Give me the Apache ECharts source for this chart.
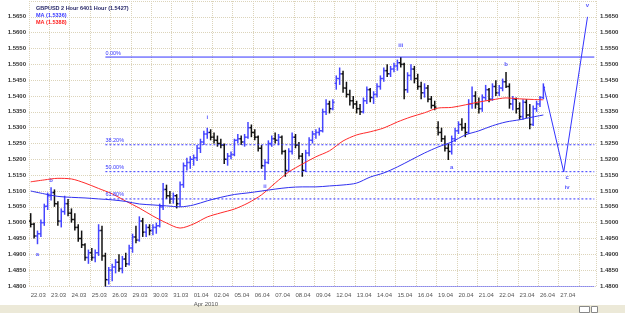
<!DOCTYPE html>
<html>
<head>
<meta charset="utf-8">
<script src="https://cdn.jsdelivr.net/npm/echarts@6/dist/echarts.min.js"></script>
<style>
  html, body { margin: 0; padding: 0; background: #fff; }
  #chart { width: 625px; height: 313px; }
</style>
</head>
<body>
<div id="chart"></div>
<script>
// trading days shown on the axis (2010), 6 bars per day
const days = ['22.03', '23.03', '24.03', '25.03', '26.03', '29.03', '30.03', '31.03', '01.04', '02.04',
  '05.04', '06.04', '07.04', '08.04', '09.04', '12.04', '13.04', '14.04', '15.04', '16.04',
  '19.04', '20.04', '21.04', '22.04', '23.04', '26.04', '27.04', '28.04'];
const slots = ['00', '04', '08', '12', '16', '20'];
const slotCount = 167;

// [open, high, low, close]
const ohlc = [
  [1.5005, 1.5030, 1.4985, 1.4995], [1.4995, 1.5000, 1.4950, 1.4958], [1.4958, 1.4975, 1.4932, 1.4965], [1.4965, 1.5010, 1.4955, 1.5000], [1.5000, 1.5060, 1.4990, 1.5052], [1.5052, 1.5095, 1.5040, 1.5085],
  [1.5085, 1.5112, 1.5070, 1.5095], [1.5095, 1.5105, 1.5050, 1.5060], [1.5060, 1.5068, 1.4990, 1.5005], [1.5005, 1.5045, 1.4985, 1.5035], [1.5035, 1.5085, 1.5025, 1.5060], [1.5060, 1.5075, 1.5020, 1.5030],
  [1.5030, 1.5045, 1.5000, 1.5010], [1.5010, 1.5030, 1.4975, 1.4985], [1.4985, 1.4995, 1.4940, 1.4950], [1.4950, 1.4975, 1.4920, 1.4930], [1.4930, 1.4935, 1.4880, 1.4890], [1.4890, 1.4915, 1.4870, 1.4905],
  [1.4905, 1.4920, 1.4880, 1.4890], [1.4890, 1.4915, 1.4875, 1.4905], [1.4905, 1.4995, 1.4895, 1.4975], [1.4975, 1.4990, 1.4880, 1.4895], [1.4895, 1.4905, 1.4798, 1.4820], [1.4820, 1.4860, 1.4805, 1.4850],
  [1.4850, 1.4870, 1.4815, 1.4860], [1.4860, 1.4885, 1.4840, 1.4875], [1.4875, 1.4900, 1.4845, 1.4855], [1.4855, 1.4895, 1.4840, 1.4885], [1.4885, 1.4905, 1.4860, 1.4870], [1.4870, 1.4930, 1.4865, 1.4920],
  [1.4920, 1.4965, 1.4905, 1.4955], [1.4955, 1.4990, 1.4935, 1.4945], [1.4945, 1.5020, 1.4940, 1.5005], [1.5005, 1.5015, 1.4955, 1.4970], [1.4970, 1.4995, 1.4955, 1.4985], [1.4985, 1.4995, 1.4960, 1.4975],
  [1.4975, 1.4995, 1.4960, 1.4985], [1.4985, 1.5000, 1.4965, 1.4990], [1.4990, 1.5060, 1.4985, 1.5050], [1.5050, 1.5125, 1.5040, 1.5105], [1.5105, 1.5120, 1.5075, 1.5085], [1.5085, 1.5100, 1.5060, 1.5075],
  [1.5075, 1.5095, 1.5060, 1.5085], [1.5085, 1.5090, 1.5045, 1.5060], [1.5060, 1.5130, 1.5050, 1.5120], [1.5120, 1.5190, 1.5110, 1.5180], [1.5180, 1.5205, 1.5165, 1.5190], [1.5190, 1.5210, 1.5170, 1.5200],
  [1.5200, 1.5215, 1.5180, 1.5205], [1.5205, 1.5245, 1.5195, 1.5235], [1.5235, 1.5265, 1.5220, 1.5255], [1.5255, 1.5290, 1.5245, 1.5280], [1.5280, 1.5300, 1.5265, 1.5285], [1.5285, 1.5295, 1.5260, 1.5270],
  [1.5270, 1.5285, 1.5250, 1.5260], [1.5260, 1.5275, 1.5240, 1.5250], [1.5250, 1.5265, 1.5235, 1.5245], [1.5245, 1.5250, 1.5185, 1.5200], [1.5200, 1.5220, 1.5180, 1.5210], [1.5210, 1.5225, 1.5200, 1.5215],
  [1.5215, 1.5265, 1.5210, 1.5260], [1.5260, 1.5280, 1.5250, 1.5265], [1.5265, 1.5275, 1.5245, 1.5255], [1.5255, 1.5280, 1.5240, 1.5270], [1.5270, 1.5318, 1.5265, 1.5300], [1.5300, 1.5310, 1.5270, 1.5285],
  [1.5285, 1.5295, 1.5260, 1.5270], [1.5270, 1.5275, 1.5225, 1.5235], [1.5235, 1.5245, 1.5170, 1.5180], [1.5180, 1.5200, 1.5135, 1.5190], [1.5190, 1.5260, 1.5185, 1.5250], [1.5250, 1.5275, 1.5240, 1.5265],
  [1.5265, 1.5285, 1.5250, 1.5260], [1.5260, 1.5280, 1.5245, 1.5270], [1.5270, 1.5275, 1.5215, 1.5225], [1.5225, 1.5230, 1.5145, 1.5165], [1.5165, 1.5235, 1.5160, 1.5225], [1.5225, 1.5285, 1.5215, 1.5270],
  [1.5270, 1.5280, 1.5235, 1.5245], [1.5245, 1.5255, 1.5200, 1.5210], [1.5210, 1.5220, 1.5145, 1.5165], [1.5165, 1.5230, 1.5160, 1.5220], [1.5220, 1.5270, 1.5210, 1.5260], [1.5260, 1.5290, 1.5250, 1.5280],
  [1.5280, 1.5295, 1.5265, 1.5285], [1.5285, 1.5300, 1.5275, 1.5290], [1.5290, 1.5360, 1.5285, 1.5350], [1.5350, 1.5390, 1.5340, 1.5375], [1.5375, 1.5385, 1.5345, 1.5360], [1.5360, 1.5390, 1.5355, 1.5380],
  [1.5440, 1.5465, 1.5420, 1.5455], [1.5455, 1.5490, 1.5435, 1.5470], [1.5470, 1.5480, 1.5410, 1.5425], [1.5425, 1.5445, 1.5395, 1.5405], [1.5405, 1.5420, 1.5370, 1.5385], [1.5385, 1.5400, 1.5360, 1.5375],
  [1.5375, 1.5385, 1.5345, 1.5360], [1.5360, 1.5375, 1.5340, 1.5350], [1.5350, 1.5395, 1.5345, 1.5385], [1.5385, 1.5430, 1.5375, 1.5420], [1.5420, 1.5425, 1.5380, 1.5395], [1.5395, 1.5415, 1.5375, 1.5405],
  [1.5405, 1.5440, 1.5395, 1.5430], [1.5430, 1.5465, 1.5420, 1.5455], [1.5455, 1.5490, 1.5445, 1.5480], [1.5480, 1.5500, 1.5460, 1.5470], [1.5470, 1.5495, 1.5460, 1.5485], [1.5485, 1.5505, 1.5475, 1.5495],
  [1.5495, 1.5515, 1.5480, 1.5505], [1.5505, 1.5523, 1.5490, 1.5500], [1.5500, 1.5505, 1.5390, 1.5420], [1.5420, 1.5475, 1.5410, 1.5465], [1.5465, 1.5500, 1.5450, 1.5485], [1.5485, 1.5495, 1.5440, 1.5455],
  [1.5455, 1.5470, 1.5420, 1.5430], [1.5430, 1.5445, 1.5390, 1.5410], [1.5410, 1.5440, 1.5395, 1.5425], [1.5425, 1.5435, 1.5380, 1.5390], [1.5390, 1.5400, 1.5360, 1.5370], [1.5370, 1.5385, 1.5355, 1.5365],
  [1.5300, 1.5320, 1.5275, 1.5285], [1.5285, 1.5300, 1.5255, 1.5265], [1.5265, 1.5275, 1.5225, 1.5235], [1.5235, 1.5250, 1.5198, 1.5225], [1.5225, 1.5275, 1.5215, 1.5265], [1.5265, 1.5300, 1.5255, 1.5290],
  [1.5290, 1.5320, 1.5280, 1.5310], [1.5310, 1.5330, 1.5290, 1.5300], [1.5300, 1.5315, 1.5270, 1.5285], [1.5285, 1.5390, 1.5280, 1.5375], [1.5375, 1.5430, 1.5360, 1.5400], [1.5400, 1.5415, 1.5360, 1.5375],
  [1.5375, 1.5395, 1.5345, 1.5360], [1.5360, 1.5405, 1.5350, 1.5395], [1.5395, 1.5435, 1.5385, 1.5420], [1.5420, 1.5425, 1.5380, 1.5390], [1.5390, 1.5440, 1.5385, 1.5430], [1.5430, 1.5450, 1.5400, 1.5410],
  [1.5410, 1.5435, 1.5400, 1.5425], [1.5425, 1.5455, 1.5415, 1.5445], [1.5445, 1.5476, 1.5425, 1.5430], [1.5430, 1.5440, 1.5360, 1.5375], [1.5375, 1.5400, 1.5355, 1.5390], [1.5390, 1.5395, 1.5345, 1.5360],
  [1.5360, 1.5380, 1.5325, 1.5335], [1.5335, 1.5390, 1.5325, 1.5380], [1.5380, 1.5390, 1.5330, 1.5340], [1.5340, 1.5375, 1.5295, 1.5310], [1.5310, 1.5370, 1.5305, 1.5360], [1.5360, 1.5385, 1.5350, 1.5375],
  [1.5375, 1.5400, 1.5365, 1.5395], [1.5395, 1.5440, 1.5390, 1.5427]
];

// moving averages, sampled at these bar indexes
const maIdx = [0, 4, 8, 12, 16, 20, 24, 28, 32, 36, 40, 44, 48, 52, 56, 60, 64, 68, 72, 76,
  80, 84, 88, 92, 96, 100, 104, 108, 112, 116, 120, 124, 128, 132, 136, 140, 144, 148, 151];
const maRed = [1.5129, 1.5135, 1.5140, 1.5138, 1.5125, 1.5108, 1.5091, 1.5068, 1.5046, 1.5021,
  1.4999, 1.4983, 1.4996, 1.5018, 1.5031, 1.5043, 1.5062, 1.5088, 1.5125, 1.5160,
  1.5185, 1.5208, 1.5227, 1.5258, 1.5277, 1.5287, 1.5299, 1.5318, 1.5334, 1.5347,
  1.5362, 1.5364, 1.5372, 1.5381, 1.5388, 1.5394, 1.5391, 1.5389, 1.5388];
const maBlue = [1.5100, 1.5091, 1.5083, 1.5080, 1.5078, 1.5075, 1.5072, 1.5067, 1.5059, 1.5056,
  1.5053, 1.5050, 1.5056, 1.5069, 1.5080, 1.5089, 1.5094, 1.5100, 1.5106, 1.5111,
  1.5113, 1.5113, 1.5116, 1.5119, 1.5125, 1.5144, 1.5157, 1.5176, 1.5198, 1.5220,
  1.5239, 1.5255, 1.5277, 1.5290, 1.5306, 1.5318, 1.5325, 1.5334, 1.5340];

// fibonacci retracement drawn from the low bar
const fibStart = 22;
const fibNames = ['0.00%', '38.20%', '50.00%', '61.80%', '100.00%'];
const fibPrices = [1.5523, 1.5246, 1.5161, 1.5075, 1.4798];
const fibSolid = [true, false, false, false, true];

// projected wave path
const projIdx = [151, 157, 164];
const projPrice = [1.5435, 1.5160, 1.5650];

// wave count labels
const waveNames = ['a', 'b', 'i', 'ii', 'iii', 'a', 'b', 'c', 'iv', 'v'];
const waveIdx = [2, 6, 52, 69, 109, 124, 140, 158, 158, 164];
const wavePrice = [1.4901, 1.5135, 1.5334, 1.5116, 1.5561, 1.5176, 1.5501, 1.5144, 1.5113, 1.5685];

const categories = days.flatMap(d => slots.map(s => d + ' ' + s)).slice(0, slotCount);

const upColor = '#4646ff';
const downColor = '#111111';
const fibColor = '#3434ff';
const gridColor = '#dcd4ba';
const font = 'Liberation Sans, Arial, sans-serif';

const chart = echarts.init(document.getElementById('chart'), null, { renderer: 'canvas' });

const yAxisBase = {
  type: 'value',
  min: 1.48,
  max: 1.57,
  interval: 0.005,
  axisLine: { show: false },
  axisTick: { show: false },
  axisLabel: {
    fontSize: 6,
    fontWeight: 'bold',
    color: '#333',
    fontFamily: font,
    formatter: v => (v > 1.5675 ? '' : v.toFixed(4))
  }
};

// one plain line series per retracement level, labelled at its start
const fibSeries = fibPrices.map((p, k) => ({
  name: fibNames[k],
  type: 'line',
  symbol: 'circle',
  symbolSize: 0,
  showSymbol: true,
  lineStyle: { color: fibColor, width: 1, type: fibSolid[k] ? 'solid' : [2, 2] },
  itemStyle: { color: fibColor },
  data: [
    {
      value: [fibStart, p],
      label: {
        show: true,
        position: 'top',
        align: 'left',
        distance: 1,
        formatter: fibNames[k],
        color: fibColor,
        fontSize: 5.5,
        fontFamily: font
      }
    },
    [slotCount - 1, p]
  ]
}));

chart.setOption({
  animation: false,
  backgroundColor: '#fff',
  title: {
    left: 31,
    top: 0,
    text: '{a|GBPUSD 2 Hour 6401 Hour (1.5427)}\n{b|MA (1.5336)}\n{c|MA (1.5388)}',
    textStyle: {
      rich: {
        a: { fontSize: 5.5, fontWeight: 'bold', color: '#2a2a6a', lineHeight: 7, fontFamily: font },
        b: { fontSize: 5.5, fontWeight: 'bold', color: '#3a3aff', lineHeight: 7, fontFamily: font },
        c: { fontSize: 5.5, fontWeight: 'bold', color: '#ff2020', lineHeight: 7, fontFamily: font }
      }
    }
  },
  grid: { left: 29, right: 29, top: 1, bottom: 27 },
  xAxis: {
    type: 'category',
    data: categories,
    boundaryGap: true,
    axisLine: { show: false },
    axisTick: { show: false },
    splitLine: { show: true, interval: 5, lineStyle: { color: gridColor, type: 'dotted', width: 1 } },
    axisLabel: {
      interval: (i, v) => i % 6 === 0 && !v.startsWith('28.04'),
      align: 'left',
      margin: 5,
      fontSize: 6,
      color: '#555',
      fontFamily: font,
      lineHeight: 9,
      formatter: v => (v.startsWith('01.04') ? '01.04\nApr 2010' : v.slice(0, 5))
    }
  },
  yAxis: [
    Object.assign({}, yAxisBase, {
      position: 'left',
      axisLabel: Object.assign({}, yAxisBase.axisLabel, { margin: 3 }),
      splitLine: { show: true, lineStyle: { color: gridColor, type: 'dotted', width: 1 } }
    }),
    Object.assign({}, yAxisBase, {
      position: 'right',
      axisLabel: Object.assign({}, yAxisBase.axisLabel, { margin: 4 }),
      splitLine: { show: false }
    })
  ],
  series: fibSeries.concat([
    {
      name: 'MA red',
      type: 'line',
      data: maIdx.map((i, k) => [i, maRed[k]]),
      symbol: 'none',
      smooth: 0.3,
      lineStyle: { color: '#ff2a2a', width: 1 }
    },
    {
      name: 'MA blue',
      type: 'line',
      data: maIdx.map((i, k) => [i, maBlue[k]]),
      symbol: 'none',
      smooth: 0.3,
      lineStyle: { color: '#3030f0', width: 1 }
    },
    {
      name: 'bars',
      type: 'custom',
      data: ohlc.map((b, i) => [i, b[0], b[1], b[2], b[3]]),
      encode: { x: 0, y: [1, 2, 3, 4] },
      renderItem: (params, api) => {
        const i = api.value(0);
        const open = api.value(1);
        const close = api.value(4);
        const o = api.coord([i, open]);
        const h = api.coord([i, api.value(2)]);
        const l = api.coord([i, api.value(3)]);
        const c = api.coord([i, close]);
        const color = close >= open ? upColor : downColor;
        const style = { stroke: color, lineWidth: 1.5 };
        return {
          type: 'group',
          children: [
            { type: 'line', shape: { x1: h[0], y1: h[1], x2: l[0], y2: l[1] }, style },
            { type: 'line', shape: { x1: o[0] - 1.7, y1: o[1], x2: o[0], y2: o[1] }, style },
            { type: 'line', shape: { x1: c[0], y1: c[1], x2: c[0] + 1.7, y2: c[1] }, style }
          ]
        };
      }
    },
    {
      name: 'projection',
      type: 'line',
      data: projIdx.map((i, k) => [i, projPrice[k]]),
      symbol: 'none',
      lineStyle: { color: fibColor, width: 1 }
    },
    {
      name: 'waves',
      type: 'scatter',
      symbolSize: 0,
      data: waveIdx.map((i, k) => ({ value: [i, wavePrice[k]], name: waveNames[k] })),
      label: {
        show: true,
        position: 'inside',
        formatter: p => p.name,
        color: '#2e2eff',
        fontSize: 6,
        fontWeight: 'bold',
        fontFamily: font
      }
    }
  ]),
  graphic: [
    { type: 'rect', left: 0, top: 305, shape: { width: 625, height: 8 }, style: { fill: '#ece9d8' }, silent: true },
    { type: 'rect', left: 579, top: 306, shape: { width: 10, height: 6 }, style: { fill: '#fff', stroke: '#888' }, silent: true },
    { type: 'rect', left: 591, top: 306, shape: { width: 6, height: 6 }, style: { fill: '#fff', stroke: '#888' }, silent: true }
  ]
});
</script>
</body>
</html>
